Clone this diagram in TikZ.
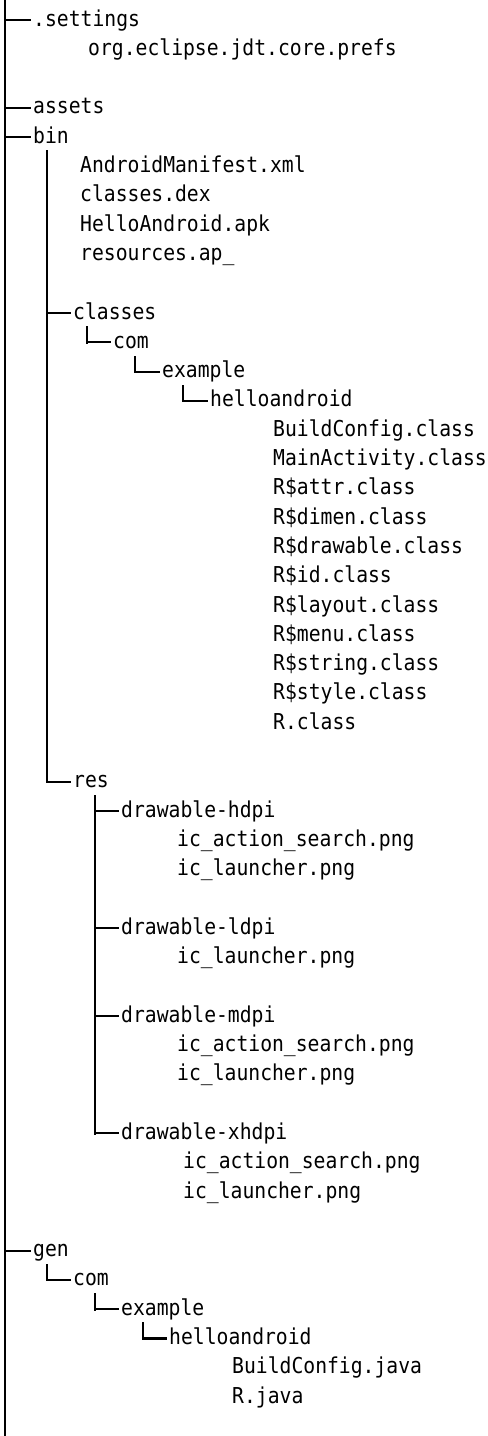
\documentclass[tikz,border=0pt]{standalone}
\usepackage{fontspec}
\newfontfamily\treefont[FakeStretch=0.9]{DejaVu Sans Mono}
\begin{document}
\begin{tikzpicture}[x=1pt, y=-29.3pt,
  entry/.style={anchor=west, inner sep=0pt, text height=12pt, text depth=0pt,
    font={\treefont\fontsize{21.9pt}{24pt}\selectfont}},
  trunk/.style={line width=2.8pt, line cap=rect},
  branch/.style={line width=2.1pt, shorten >=1.6pt}]
% page frame
\useasboundingbox (0,0.3174) rectangle (488,49.328);

% ---- entries ----
\node[entry] (settings) at (33,1) {.settings};
\node[entry] (prefs)    at (88,2) {org.eclipse.jdt.core.prefs};
\node[entry] (assets)   at (33,4) {assets};
\node[entry] (bin)      at (33,5) {bin};
\node[entry] (manifest) at (80,6) {AndroidManifest.xml};
\node[entry] (dex)      at (80,7) {classes.dex};
\node[entry] (apk)      at (80,8) {HelloAndroid.apk};
\node[entry] (apres)    at (80,9) {resources.ap\_};
\node[entry] (classes)  at (73,11) {classes};
\node[entry] (bcom)     at (113,12) {com};
\node[entry] (bexample) at (162,13) {example};
\node[entry] (bhello)   at (210,14) {helloandroid};
\node[entry] (c1)  at (273,15) {BuildConfig.class};
\node[entry] (c2)  at (273,16) {MainActivity.class};
\node[entry] (c3)  at (273,17) {R\$attr.class};
\node[entry] (c4)  at (273,18) {R\$dimen.class};
\node[entry] (c5)  at (273,19) {R\$drawable.class};
\node[entry] (c6)  at (273,20) {R\$id.class};
\node[entry] (c7)  at (273,21) {R\$layout.class};
\node[entry] (c8)  at (273,22) {R\$menu.class};
\node[entry] (c9)  at (273,23) {R\$string.class};
\node[entry] (c10) at (273,24) {R\$style.class};
\node[entry] (c11) at (273,25) {R.class};
\node[entry] (res)   at (73,27) {res};
\node[entry] (hdpi)  at (121,28) {drawable-hdpi};
\node[entry] (h1)    at (177,29) {ic\_action\_search.png};
\node[entry] (h2)    at (177,30) {ic\_launcher.png};
\node[entry] (ldpi)  at (121,32) {drawable-ldpi};
\node[entry] (l1)    at (177,33) {ic\_launcher.png};
\node[entry] (mdpi)  at (121,35) {drawable-mdpi};
\node[entry] (m1)    at (177,36) {ic\_action\_search.png};
\node[entry] (m2)    at (177,37) {ic\_launcher.png};
\node[entry] (xhdpi) at (121,39) {drawable-xhdpi};
\node[entry] (x1)    at (183,40) {ic\_action\_search.png};
\node[entry] (x2)    at (183,41) {ic\_launcher.png};
\node[entry] (gen)      at (33,43) {gen};
\node[entry] (gcom)     at (73,44) {com};
\node[entry] (gexample) at (121,45) {example};
\node[entry] (ghello)   at (169,46) {helloandroid};
\node[entry] (j1) at (232,47) {BuildConfig.java};
\node[entry] (j2) at (232,48) {R.java};

% ---- tree lines ----
% project root
\coordinate (rootT) at (5,0.3174);
\coordinate (rootB) at (5,49.328);
\draw[trunk] (rootT) -- (rootB);
\foreach \n in {settings,assets,bin,gen}
  \draw[branch] (rootT |- \n.west) -- (\n.west);

% bin
\coordinate (binT) at (47,5.5);
\draw[trunk] (binT) -- (binT |- res.west);
\foreach \n in {classes,res}
  \draw[branch] (binT |- \n.west) -- (\n.west);

% bin/classes/com/example/helloandroid
\coordinate (clsT) at (87,11.5);
\draw[trunk] (clsT) -- (clsT |- bcom.west);
\draw[branch] (clsT |- bcom.west) -- (bcom.west);
\coordinate (bcomT) at (135,12.5);
\draw[trunk] (bcomT) -- (bcomT |- bexample.west);
\draw[branch] (bcomT |- bexample.west) -- (bexample.west);
\coordinate (bexT) at (183,13.5);
\draw[trunk] (bexT) -- (bexT |- bhello.west);
\draw[branch] (bexT |- bhello.west) -- (bhello.west);

% bin/res
\coordinate (resT) at (95,27.5);
\draw[trunk] (resT) -- (resT |- xhdpi.west);
\foreach \n in {hdpi,ldpi,mdpi,xhdpi}
  \draw[branch] (resT |- \n.west) -- (\n.west);

% gen/com/example/helloandroid
\coordinate (genT) at (47,43.5);
\draw[trunk] (genT) -- (genT |- gcom.west);
\draw[branch] (genT |- gcom.west) -- (gcom.west);
\coordinate (gcomT) at (95,44.5);
\draw[trunk] (gcomT) -- (gcomT |- gexample.west);
\draw[branch] (gcomT |- gexample.west) -- (gexample.west);
\coordinate (gexT) at (143,45.5);
\draw[trunk] (gexT) -- (gexT |- ghello.west);
\draw[branch] (gexT |- ghello.west) -- (ghello.west);
\end{tikzpicture}
\end{document}
